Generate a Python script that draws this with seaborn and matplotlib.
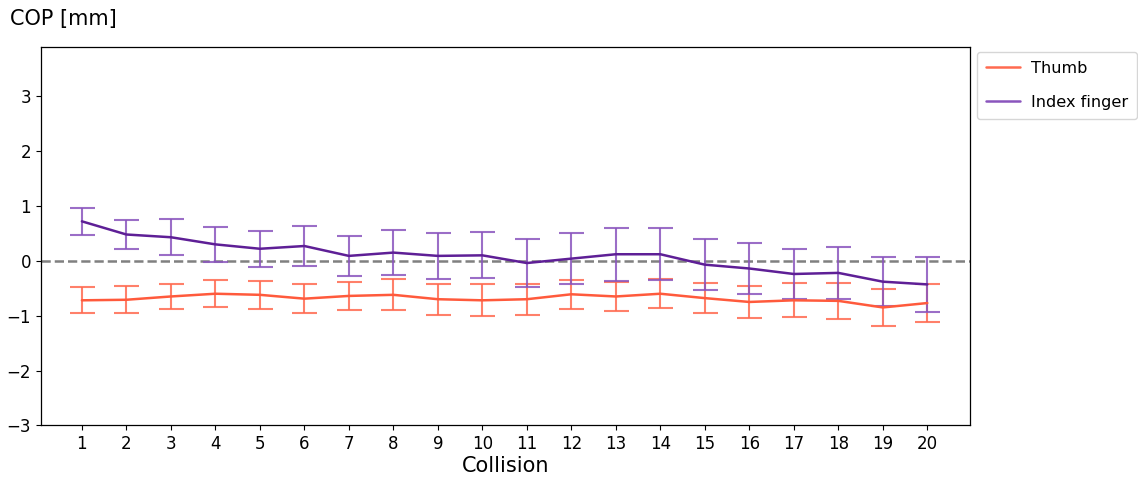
import matplotlib
matplotlib.use("Agg")
import matplotlib.pyplot as plt
import seaborn as sns
import pandas as pd
import numpy as np
from matplotlib.lines import Line2D

collisions = list(range(1, 21))
thumb_mean = [-0.72, -0.71, -0.65, -0.60, -0.62, -0.69, -0.64, -0.62, -0.70, -0.72,
              -0.70, -0.61, -0.65, -0.60, -0.68, -0.75, -0.72, -0.73, -0.85, -0.77]
thumb_err = [0.24, 0.25, 0.23, 0.25, 0.26, 0.26, 0.25, 0.28, 0.28, 0.29,
             0.28, 0.26, 0.26, 0.26, 0.28, 0.30, 0.31, 0.33, 0.34, 0.35]
index_mean = [0.72, 0.48, 0.43, 0.30, 0.22, 0.27, 0.09, 0.15, 0.09, 0.10,
              -0.04, 0.04, 0.12, 0.12, -0.07, -0.14, -0.24, -0.22, -0.38, -0.43]
index_err = [0.25, 0.27, 0.33, 0.32, 0.33, 0.37, 0.37, 0.41, 0.42, 0.42,
             0.44, 0.47, 0.48, 0.47, 0.47, 0.46, 0.46, 0.48, 0.45, 0.50]
series_names = ["Thumb", "Index finger"]
line_colors = ["#ff5a3c", "#5e1f96"]
err_colors = ["#ff6a50", "#8a55bd"]

sns.set_style("ticks")
plt.rcParams["font.family"] = ["DejaVu Sans"]
plt.rcParams["text.color"] = "black"
plt.rcParams["xtick.color"] = "black"
plt.rcParams["ytick.color"] = "black"
plt.rcParams["axes.labelcolor"] = "black"

df = pd.DataFrame({
    "Collision": collisions * 2,
    "COP": thumb_mean + index_mean,
    "Finger": [series_names[0]] * 20 + [series_names[1]] * 20,
})

fig, ax = plt.subplots(figsize=(11.38, 4.79), dpi=100)
fig.subplots_adjust(left=0.036, right=0.852, top=0.902, bottom=0.112)

for means, errs, col in [(thumb_mean, thumb_err, err_colors[0]), (index_mean, index_err, err_colors[1])]:
    ax.errorbar(collisions, means, yerr=errs, fmt="none", ecolor=col, alpha=0.85,
                elinewidth=1.5, capsize=9, capthick=1.5)

sns.lineplot(data=df, x="Collision", y="COP", hue="Finger", palette=line_colors,
             linewidth=1.8, ax=ax, legend=False)

ax.axhline(0, color="grey", linestyle="--", linewidth=1.8, zorder=0.5)

ax.set_xlim(0.08, 20.95)
ax.set_ylim(-3, 3.9)
ax.set_xticks(collisions)
ax.set_xticklabels([str(c) for c in collisions], fontsize=12)
ax.set_yticks([-3, -2, -1, 0, 1, 2, 3])
ax.set_yticklabels(["\u22123", "\u22122", "\u22121", "0", "1", "2", "3"], fontsize=12)
ax.set_xlabel("Collision", fontsize=15, labelpad=2)
ax.set_ylabel("")
for sp in ax.spines.values():
    sp.set_color("black")
    sp.set_linewidth(0.9)

fig.text(0.009, 0.94, "COP [mm]", fontsize=15, ha="left", va="bottom")

handles = [Line2D([0], [0], color=err_colors[0], lw=1.8),
           Line2D([0], [0], color=err_colors[1], lw=1.8)]
ax.legend(handles, series_names, loc="upper left", bbox_to_anchor=(1.003, 1.0),
          fontsize=11.6, labelspacing=1.2, handlelength=2.1, borderpad=0.55,
          handletextpad=0.7, borderaxespad=0.3)

fig.savefig("out.png", dpi=100)
